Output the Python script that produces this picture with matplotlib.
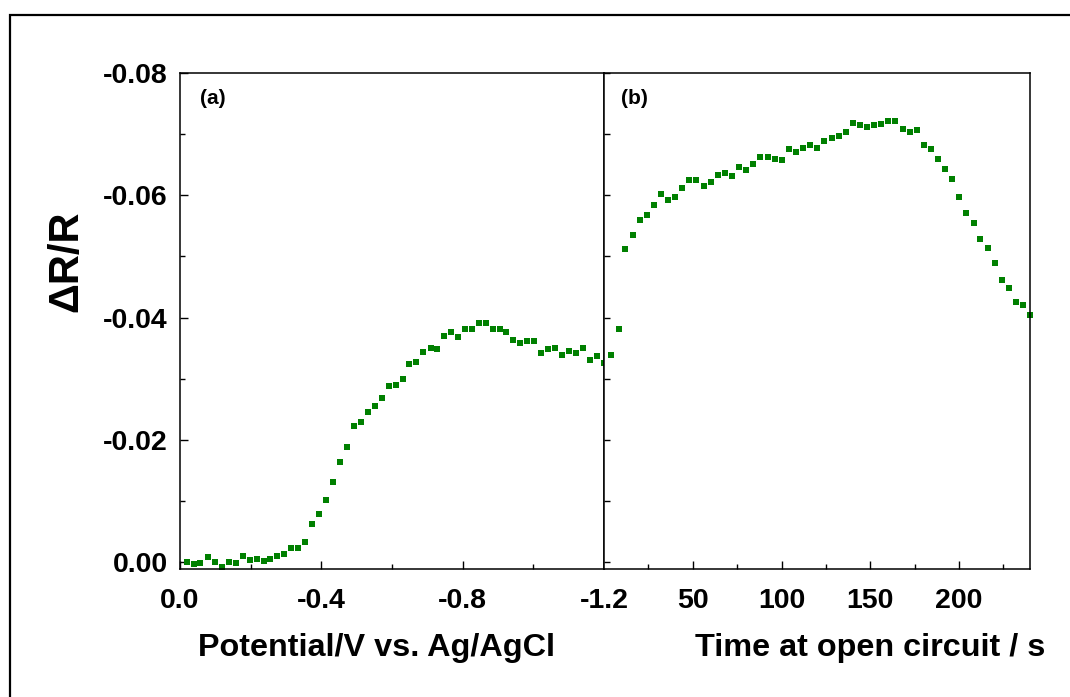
import numpy as np
import matplotlib
matplotlib.use('Agg')
import matplotlib.pyplot as plt
from matplotlib.patches import Rectangle
from matplotlib.ticker import FixedLocator, MultipleLocator

plt.rcParams['font.family'] = ['Liberation Sans', 'DejaVu Sans']
plt.rcParams['font.weight'] = 'bold'

# (a) potential sweep: potential in V vs. Ag/AgCl, dR/R
potential = [-0.019, -0.040, -0.058, -0.078, -0.099, -0.118, -0.138, -0.158, -0.177, -0.197,
             -0.217, -0.237, -0.256, -0.275, -0.295, -0.315, -0.335, -0.355, -0.374, -0.393,
             -0.413, -0.433, -0.452, -0.472, -0.492, -0.511, -0.531, -0.551, -0.571, -0.591,
             -0.610, -0.630, -0.649, -0.669, -0.689, -0.709, -0.727, -0.747, -0.767, -0.787,
             -0.806, -0.825, -0.845, -0.865, -0.885, -0.905, -0.924, -0.943, -0.963, -0.983,
             -1.003, -1.023, -1.042, -1.061, -1.081, -1.101, -1.121, -1.140, -1.159, -1.179,
             -1.199]
dr_sweep = [0.0000, 0.0003, 0.0002, -0.0008, 0.0000, 0.0007, 0.0000, 0.0001, -0.0010, -0.0003,
            -0.0006, -0.0002, -0.0006, -0.0011, -0.0014, -0.0023, -0.0024, -0.0033, -0.0062, -0.0079,
            -0.0102, -0.0132, -0.0164, -0.0188, -0.0223, -0.0230, -0.0246, -0.0255, -0.0268, -0.0289,
            -0.0290, -0.0300, -0.0324, -0.0328, -0.0344, -0.0351, -0.0348, -0.0370, -0.0377, -0.0369,
            -0.0382, -0.0382, -0.0391, -0.0391, -0.0382, -0.0382, -0.0376, -0.0363, -0.0359, -0.0362,
            -0.0361, -0.0342, -0.0349, -0.0351, -0.0339, -0.0345, -0.0342, -0.0350, -0.0331, -0.0337,
            -0.0326]

# (b) hold at open circuit: time in s, dR/R
time_oc = [4.2, 8.2, 12.1, 16.2, 20.1, 24.0, 28.1, 32.1, 36.2, 40.1,
           44.2, 48.1, 52.1, 56.2, 60.1, 64.2, 68.1, 72.2, 76.1, 80.1,
           84.2, 88.1, 92.2, 96.1, 100.2, 104.2, 108.3, 112.2, 116.1, 120.2,
           124.2, 128.3, 132.2, 136.3, 140.2, 144.1, 148.1, 152.2, 156.1, 160.2,
           164.1, 168.2, 172.2, 176.1, 180.2, 184.1, 188.2, 192.1, 196.2, 200.2,
           204.1, 208.2, 212.1, 216.2, 220.2, 224.3, 228.2, 232.1, 236.2, 240.2]
dr_oc = [-0.0339, -0.0381, -0.0512, -0.0535, -0.0560, -0.0568, -0.0584, -0.0602, -0.0592, -0.0597,
         -0.0612, -0.0625, -0.0625, -0.0615, -0.0621, -0.0634, -0.0637, -0.0632, -0.0647, -0.0642,
         -0.0651, -0.0663, -0.0662, -0.0659, -0.0658, -0.0675, -0.0671, -0.0677, -0.0682, -0.0677,
         -0.0688, -0.0694, -0.0697, -0.0704, -0.0719, -0.0715, -0.0711, -0.0715, -0.0717, -0.0721,
         -0.0721, -0.0709, -0.0703, -0.0707, -0.0683, -0.0675, -0.0659, -0.0643, -0.0627, -0.0598,
         -0.0571, -0.0554, -0.0528, -0.0514, -0.0490, -0.0462, -0.0448, -0.0426, -0.0420, -0.0404]

left_ticks = [0.0, -0.4, -0.8, -1.2]
left_labels = ['0.0', '-0.4', '-0.8', '-1.2']
right_ticks = [50, 100, 150, 200]
y_ticks = [-0.08, -0.06, -0.04, -0.02, 0.0]
y_labels = ['-0.08', '-0.06', '-0.04', '-0.02', '0.00']

green = '#008000'
W, H = 1070, 697
fig = plt.figure(figsize=(W / 100, H / 100), dpi=100)

# outer frame, runs off the right and bottom edges
top = 1 - 15 / H
fig.add_artist(Rectangle((10 / W, -0.2), 1.2, top + 0.2, transform=fig.transFigure,
                         fill=False, lw=1.6, ec='black'))

bot = 1 - 569 / H
hgt = (569 - 73) / H
ax1 = fig.add_axes([180 / W, bot, (604 - 180) / W, hgt])
ax2 = fig.add_axes([604 / W, bot, (1030 - 604) / W, hgt])

ax1.plot(potential, dr_sweep, 's', color=green, ms=5, mew=0, clip_on=False)
ax2.plot(time_oc, dr_oc, 's', color=green, ms=5, mew=0, clip_on=False)

for ax in (ax1, ax2):
    ax.set_ylim(0.0011, -0.08)
    for s in ax.spines.values():
        s.set_linewidth(1.1)
    ax.tick_params(which='both', direction='in', width=1.0, labelsize=20.5, pad=14)
    ax.tick_params(which='major', length=6)
    ax.tick_params(which='minor', length=3.5)

ax1.set_xlim(0, -1.2)
ax1.xaxis.set_major_locator(FixedLocator(left_ticks))
ax1.set_xticklabels(left_labels)
ax1.xaxis.set_minor_locator(FixedLocator([-0.2, -0.6, -1.0]))
ax1.yaxis.set_major_locator(FixedLocator(y_ticks))
ax1.set_yticklabels(y_labels)
ax1.yaxis.set_minor_locator(MultipleLocator(0.01))
ax1.tick_params(axis='y', pad=9)

ax2.set_xlim(0, 240)
ax2.xaxis.set_major_locator(FixedLocator(right_ticks))
ax2.xaxis.set_minor_locator(FixedLocator([25, 75, 125, 175, 225]))
ax2.yaxis.set_major_locator(FixedLocator([]))
ax2.yaxis.set_minor_locator(MultipleLocator(0.01))
ax2.tick_params(axis='y', which='minor', length=4)

# axis titles
fig.text(376 / W, 1 - 648 / H, 'Potential/V vs. Ag/AgCl', fontsize=23.3, fontweight='bold',
         ha='center', va='center')
fig.text(870 / W, 1 - 648 / H, 'Time at open circuit / s', fontsize=23.3, fontweight='bold',
         ha='center', va='center')
fig.text(66 / W, 1 - 261 / H, 'ΔR/R', rotation=90, fontsize=30, fontweight='bold',
         ha='center', va='center')

ax1.text(0.048, 0.948, '(a)', transform=ax1.transAxes, fontsize=15, fontweight='bold',
         ha='left', va='center')
ax2.text(0.040, 0.948, '(b)', transform=ax2.transAxes, fontsize=15, fontweight='bold',
         ha='left', va='center')

fig.savefig('out.png', dpi=100)
